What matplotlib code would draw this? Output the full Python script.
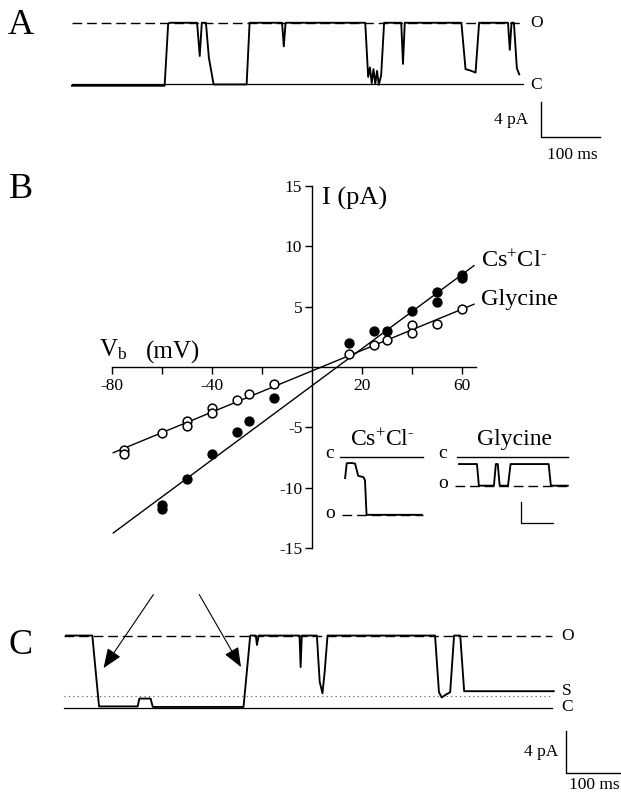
import matplotlib
matplotlib.use("Agg")
import matplotlib.pyplot as plt

plt.rcParams['font.family'] = ['Liberation Serif', 'DejaVu Serif']
plt.rcParams['mathtext.fontset'] = 'custom'
plt.rcParams['mathtext.rm'] = 'Liberation Serif'
plt.rcParams['mathtext.it'] = 'Liberation Serif:italic'
plt.rcParams['mathtext.bf'] = 'Liberation Serif:bold'

# ------------------------------------------------------------------ data
# Panel A: single-channel trace (time in ms, current in pA)
a_time = [0, 157, 163, 166, 212, 216.5, 220, 227, 232, 240, 296, 301, 356, 359, 362,
          497, 502, 505, 508, 511, 514, 517, 520, 524, 529, 558, 561, 564, 660, 667,
          677, 684, 690, 739, 742, 745, 749, 754, 758]
a_curr = [-0.2, -0.2, 6.9, 7.0, 7.0, 3.2, 7.0, 7.0, 3.0, -0.05, -0.05, 7.0, 7.0, 4.3, 7.0,
          7.0, 0.8, 1.9, 0.1, 1.7, 0.0, 1.5, -0.1, 1.0, 7.0, 7.0, 2.3, 7.0, 7.0, 1.7,
          1.5, 1.3, 7.0, 7.0, 3.9, 7.0, 7.0, 1.8, 1.1]
a_levels = {"O": 7.0, "C": 0.0}
a_span = [0, 765]

# Panel B: current-voltage relation
cs_v = [15, 25, 30, 40, 50, 50, 60, 60, -15, -25, -30, -40, -50, -60, -60]
cs_i = [2.0, 3.0, 2.95, 4.6, 6.2, 5.4, 7.6, 7.35, -2.6, -4.5, -5.4, -7.2, -9.3, -11.45, -11.75]
gly_v = [15, 25, 30, 40, 40, 50, 60, -15, -25, -30, -40, -40, -50, -50, -60, -75, -75]
gly_i = [1.07, 1.86, 2.2, 3.44, 2.84, 3.58, 4.8, -1.4, -2.2, -2.73, -3.42, -3.84, -4.47,
         -4.86, -5.44, -6.88, -7.2]
fit_v = [-79.5, 64.8]
cs_fit_i = [-13.75, 8.4]
gly_fit_i = [-7.1, 5.2]
x_ticks = [-80, -60, -40, -20, 20, 40, 60]
x_ticklabels = ['-80', '', '-40', '', '20', '', '60']
y_ticks = [-15, -10, -5, 5, 10, 15]
y_ticklabels = ['-15', '-10', '-5', '5', '10', '15']

# Panel B insets (time in ms, current in pA)
cs_ins_t = [16, 21, 35, 47, 57, 73, 78, 83, 255]
cs_ins_i = [-4.0, -1.25, -1.2, -1.3, -3.6, -3.8, -4.4, -10.8, -10.8]
cs_ins_c = [0, 260]
cs_ins_o = [6, 260]
cs_ins_open = -10.8
gly_ins_t = [372, 428, 434, 481, 487, 493, 499, 525, 533, 652, 659, 712]
gly_ins_i = [-1.4, -1.4, -5.4, -5.4, -1.4, -1.4, -5.4, -5.4, -1.4, -1.4, -5.4, -5.4]
gly_ins_c = [366, 712]
gly_ins_o = [359, 712]
gly_ins_open = -5.45

# Panel C: trace with sub-conductance level
c_time = [0, 47, 53, 59, 128, 131, 151, 155, 317, 323, 329, 339, 341, 344, 417, 419, 421,
          448, 453, 458, 462, 467, 659, 666, 671, 679, 686, 693, 704, 711, 871]
c_curr = [6.9, 6.9, 3.5, 0.15, 0.15, 0.9, 0.9, 0.1, 0.1, 3.5, 6.9, 6.9, 6.0, 6.9, 6.9, 3.9, 6.9,
          6.9, 2.5, 1.4, 3.5, 6.9, 6.9, 1.5, 1.0, 1.3, 1.5, 6.9, 6.9, 1.6, 1.6]
c_levels = {"O": 6.9, "S": 1.1, "C": 0.0}
c_span = [-3, 868]
c_arrows = [((156, 10.8), (67, 3.8)), ((238, 10.8), (312.5, 3.9))]

# ------------------------------------------------------------------ layout helpers
W, H = 621, 795
fig = plt.figure(figsize=(W / 100, H / 100), dpi=100)


def px_axes(L, T, R, B, x0, sx, y0, sy):
    """Axes over pixel box; data 0 at pixel (x0, y0); sx, sy pixels per unit."""
    ax = fig.add_axes([L / W, 1 - B / H, (R - L) / W, (B - T) / H])
    ax.set_xlim((L - x0) / sx, (R - x0) / sx)
    ax.set_ylim((y0 - B) / sy, (y0 - T) / sy)
    ax.set_axis_off()
    ax.patch.set_alpha(0)
    return ax


def px_text(x, y, s, **kw):
    kw.setdefault('va', 'center')
    fig.text(x / W, 1 - y / H, s, **kw)


TR = dict(color='black', lw=1.35, solid_joinstyle='round', clip_on=False)
DASH = (0, (7, 3.5))
CSCL = 'Cs$^{+}$Cl$^{\u2010}$'

# ------------------------------------------------------------------ Panel A
axA = px_axes(60, 0, 621, 170, 72, 0.59, 84, 8.75)
axA.plot(a_span, [a_levels["O"]] * 2, color='black', lw=1.0, linestyle=DASH)
axA.plot(a_span, [a_levels["C"]] * 2, color='black', lw=0.9)
axA.plot(a_time, a_curr, **TR)
# scale bar 4 pA / 100 ms
axA.plot([795, 795, 895], [-2.0, -6.0, -6.0], color='black', lw=1.0, clip_on=False)
px_text(21, 26, 'A', fontsize=26, ha='center')
px_text(537, 23, 'O', fontsize=12.5, ha='center')
px_text(536, 85, 'C', fontsize=12.5, ha='center')
px_text(528, 120, '4 pA', fontsize=12.5, ha='right')
px_text(572, 155, '100 ms', fontsize=12.5, ha='center')

# ------------------------------------------------------------------ Panel B
L, T, R, B = 40, 172, 612, 560
axB = fig.add_axes([L / W, 1 - B / H, (R - L) / W, (B - T) / H])
x0, sx, y0, sy = 312, 2.5, 367, 12.07
axB.set_xlim((L - x0) / sx, (R - x0) / sx)
axB.set_ylim((y0 - B) / sy, (y0 - T) / sy)
axB.patch.set_alpha(0)
for s in ['top', 'right']:
    axB.spines[s].set_visible(False)
axB.spines['left'].set_position(('data', 0))
axB.spines['bottom'].set_position(('data', 0))
axB.spines['left'].set_bounds(-15, 15)
axB.spines['bottom'].set_bounds(-80, 65.5)
for s in ['left', 'bottom']:
    axB.spines[s].set_linewidth(1.0)
axB.set_xticks(x_ticks)
axB.set_xticklabels(x_ticklabels)
axB.set_yticks(y_ticks)
axB.set_yticklabels(y_ticklabels)
axB.tick_params(axis='both', direction='out', length=5, width=1.0, labelsize=12.5)
axB.tick_params(axis='x', pad=3)
axB.tick_params(axis='y', pad=2)

axB.plot(fit_v, cs_fit_i, color='black', lw=1.0)
axB.plot(fit_v, gly_fit_i, color='black', lw=1.0)
axB.plot(cs_v, cs_i, 'o', ms=6.6, mfc='black', mec='black', mew=0.8, zorder=3)
axB.plot(gly_v, gly_i, 'o', ms=6.3, mfc='white', mec='black', mew=1.1, zorder=3)

px_text(21, 190, 'B', fontsize=26, ha='center')
px_text(322, 198, 'I (pA)', fontsize=19, ha='left')
px_text(99, 350, r'V$_{\mathrm{b}}$', fontsize=18, ha='left')
px_text(146, 352, '(mV)', fontsize=18, ha='left')
px_text(481, 261, CSCL, fontsize=17.5, ha='left')
px_text(481, 300, 'Glycine', fontsize=17.5, ha='left')

# insets
axI = px_axes(315, 425, 585, 530, 340, 0.32, 456.5, 5.4)
axI.plot(cs_ins_c, [0, 0], color='black', lw=1.0)
axI.plot(cs_ins_o, [cs_ins_open] * 2, color='black', lw=1.0, linestyle=DASH)
axI.plot(cs_ins_t, cs_ins_i, **TR)
axI.plot(gly_ins_c, [0, 0], color='black', lw=1.0)
axI.plot(gly_ins_o, [gly_ins_open] * 2, color='black', lw=1.0, linestyle=DASH)
axI.plot(gly_ins_t, gly_ins_i, **TR)
axI.plot([566, 566, 666], [-8.4, -12.4, -12.4], color='black', lw=0.9)
px_text(382, 440, CSCL, fontsize=17, ha='center')
px_text(515, 440, 'Glycine', fontsize=17, ha='center')
px_text(330, 454, 'c', fontsize=14, ha='center')
px_text(330, 513, 'o', fontsize=14, ha='center')
px_text(443, 454, 'c', fontsize=14, ha='center')
px_text(443, 484, 'o', fontsize=14, ha='center')

# ------------------------------------------------------------------ Panel C
axC = px_axes(55, 575, 621, 795, 66, 0.56, 708, 10.5)
axC.plot(c_span, [c_levels["O"]] * 2, color='black', lw=1.0, linestyle=DASH)
axC.plot(c_span, [c_levels["S"]] * 2, color='#555555', lw=0.8, linestyle=(0, (1, 3)))
axC.plot(c_span, [c_levels["C"]] * 2, color='black', lw=0.9)
axC.plot(c_time, c_curr, **TR)
for tail, head in c_arrows:
    axC.annotate('', xy=head, xytext=tail,
                 arrowprops=dict(arrowstyle='-|>,head_length=0.75,head_width=0.3',
                                 mutation_scale=16, lw=0.8, color='black',
                                 shrinkA=0, shrinkB=0))
# scale bar 4 pA / 100 ms
axC.plot([893, 893, 993], [-2.2, -6.2, -6.2], color='black', lw=1.0, clip_on=False)
px_text(21, 646, 'C', fontsize=26, ha='center')
px_text(568, 636, 'O', fontsize=12.5, ha='center')
px_text(567, 691, 'S', fontsize=12.5, ha='center')
px_text(567, 707, 'C', fontsize=12.5, ha='center')
px_text(558, 752, '4 pA', fontsize=12.5, ha='right')
px_text(594, 785, '100 ms', fontsize=12.5, ha='center')

fig.savefig('out.png', dpi=100)
